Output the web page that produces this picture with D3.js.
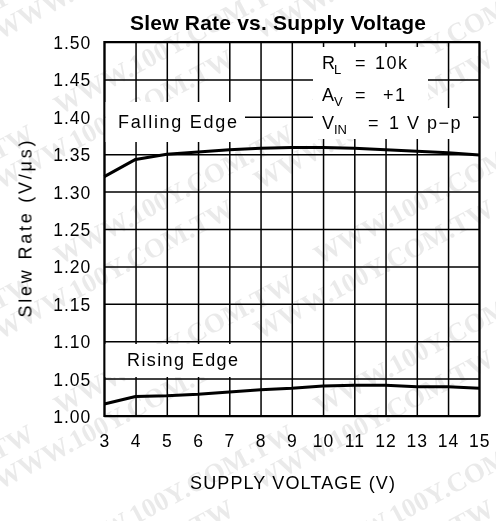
<!DOCTYPE html>
<html>
<head>
<meta charset="utf-8">
<script src="https://cdn.jsdelivr.net/npm/d3@7"></script>
<style>
  html, body { margin: 0; padding: 0; background: #fff; }
  svg { display: block; }
  text { font-family: "Liberation Sans", Arial, Helvetica, sans-serif; fill: #000; }
</style>
</head>
<body>
<script>
// Supply voltage (V) and measured slew rate (V/µs)
const supplyVoltage = [3, 4, 5, 6, 7, 8, 9, 10, 11, 12, 13, 14, 15];
const fallingEdge   = [1.320, 1.343, 1.350, 1.353, 1.356, 1.358, 1.359, 1.359, 1.358, 1.356, 1.354, 1.352, 1.349];
const risingEdge    = [1.016, 1.026, 1.027, 1.029, 1.032, 1.035, 1.037, 1.040, 1.041, 1.041, 1.039, 1.039, 1.037];

// Axis ticks
const xTicks = [3, 4, 5, 6, 7, 8, 9, 10, 11, 12, 13, 14, 15];
const yTicks = [1.00, 1.05, 1.10, 1.15, 1.20, 1.25, 1.30, 1.35, 1.40, 1.45, 1.50];

const W = 496, H = 521;
const plot = { left: 104.3, right: 479.3, top: 42, bottom: 416 };

const svg = d3.select("body").append("svg")
  .attr("width", W).attr("height", H);

// Faint diagonal background stamp
const wm = svg.append("g").attr("opacity", 0.085);
for (let row = -3; row < 9; row++) {
  for (let col = -1; col < 3; col++) {
    const cx = col * 260 + (row % 2) * 60;
    const cy = row * 75 + 40;
    wm.append("text")
      .attr("transform", `translate(${cx},${cy}) rotate(-28)`)
      .style("font-family", "'Liberation Serif', 'Times New Roman', serif")
      .style("font-weight", "bold")
      .style("font-size", "27px")
      .text("WWW.100Y.COM.TW");
  }
}

const x = d3.scaleLinear().domain([3, 15]).range([plot.left, plot.right]);
const y = d3.scaleLinear().domain([1.0, 1.5]).range([plot.bottom, plot.top]);

// Grid + tick labels via axes
const gx = svg.append("g")
  .attr("transform", `translate(0,${plot.bottom})`)
  .call(d3.axisBottom(x).tickValues(xTicks)
    .tickSize(-(plot.bottom - plot.top)).tickPadding(19)
    .tickFormat(d3.format("d")));
const gy = svg.append("g")
  .attr("transform", `translate(${plot.left},0)`)
  .call(d3.axisLeft(y).tickValues(yTicks)
    .tickSize(-(plot.right - plot.left)).tickPadding(13)
    .tickFormat(d3.format(".2f")));

[gx, gy].forEach(g => {
  g.select(".domain").remove();
  g.selectAll(".tick line").attr("stroke", "#000").attr("stroke-width", 1.5);
  g.selectAll(".tick text")
    .attr("fill", "#000")
    .style("font-family", "'Liberation Sans', Arial, sans-serif")
    .style("font-size", "17.5px")
    .style("letter-spacing", "1px");
});
gy.selectAll(".tick text").attr("dy", "0.37em");

// White backgrounds behind in-plot labels
const bg = svg.append("g").attr("fill", "#fff");
bg.append("rect").attr("x", plot.left + 1).attr("y", 102).attr("width", 245 - plot.left - 1).attr("height", 40);
bg.append("rect").attr("x", plot.left + 1).attr("y", 344).attr("width", 249 - plot.left - 1).attr("height", 33);
bg.append("rect").attr("x", 313).attr("y", 47).attr("width", 115).attr("height", 61);
bg.append("rect").attr("x", 313).attr("y", 108).attr("width", 160).attr("height", 31);

// Plot frame
svg.append("rect")
  .attr("x", plot.left).attr("y", plot.top)
  .attr("width", plot.right - plot.left).attr("height", plot.bottom - plot.top)
  .attr("fill", "none").attr("stroke", "#000").attr("stroke-width", 2);

// Curves
const line = d3.line()
  .x((d, i) => x(supplyVoltage[i]))
  .y(d => y(d));
[fallingEdge, risingEdge].forEach(series => {
  svg.append("path")
    .datum(series)
    .attr("d", line)
    .attr("fill", "none")
    .attr("stroke", "#000")
    .attr("stroke-width", 3)
    .attr("stroke-linejoin", "round");
});

// Curve labels
svg.append("text").attr("x", 118).attr("y", 128)
  .attr("textLength", 119).attr("lengthAdjust", "spacing")
  .style("font-size", "18px").text("Falling Edge");
svg.append("text").attr("x", 127).attr("y", 366)
  .attr("textLength", 111).attr("lengthAdjust", "spacing")
  .style("font-size", "18px").text("Rising Edge");

// Test conditions
const cond = svg.append("g").style("font-size", "18px");
function condLine(base, sub, subX, eqX, value, valueX, yy) {
  cond.append("text").attr("x", 322).attr("y", yy).text(base);
  cond.append("text").attr("x", subX).attr("y", yy + 5).style("font-size", "13px").text(sub);
  cond.append("text").attr("x", eqX).attr("y", yy).text("=");
  cond.append("text").attr("x", valueX).attr("y", yy).style("letter-spacing", "1.5px").text(value);
}
condLine("R", "L", 334, 355, "10k", 375, 69);
condLine("A", "V", 334, 355, "+1", 383, 101);
condLine("V", "IN", 334, 368, "1 V  p\u2212p", 389, 129);

// Title
svg.append("text").attr("x", 278).attr("y", 30)
  .attr("text-anchor", "middle")
  .attr("textLength", 296).attr("lengthAdjust", "spacing")
  .style("font-size", "21px").style("font-weight", "bold")
  .text("Slew Rate vs. Supply Voltage");

// Axis titles
svg.append("text").attr("x", 292.5).attr("y", 489)
  .attr("text-anchor", "middle")
  .attr("textLength", 205).attr("lengthAdjust", "spacing")
  .style("font-size", "18px")
  .text("SUPPLY VOLTAGE (V)");
svg.append("text")
  .attr("transform", "translate(31.5,229) rotate(-90)")
  .attr("text-anchor", "middle")
  .attr("textLength", 177).attr("lengthAdjust", "spacing")
  .style("font-size", "18px")
  .text("Slew Rate (V/\u03bcs)");
</script>
</body>
</html>
